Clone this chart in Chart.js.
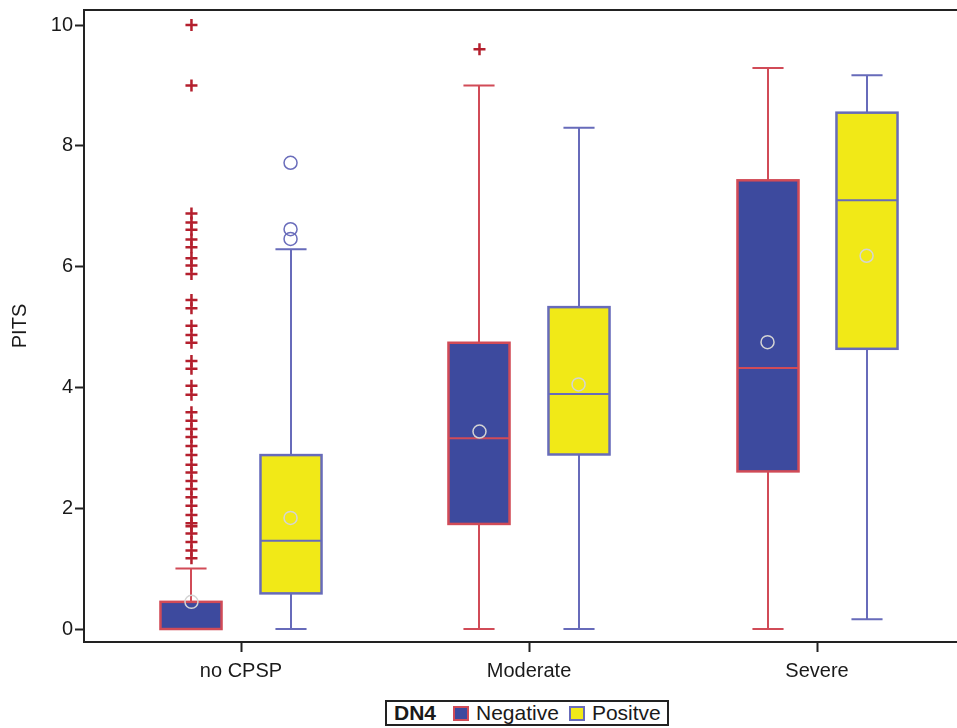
<!DOCTYPE html>
<html>
<head>
<meta charset="utf-8">
<script src="https://cdn.jsdelivr.net/npm/chart.js@4/dist/chart.umd.min.js"></script>
<style>
  html, body { margin: 0; padding: 0; background: #fff; overflow: hidden; }
  #wrap { position: relative; width: 957px; height: 728px; overflow: hidden; }
  #legend {
    position: absolute; left: 385px; top: 700px; height: 26px;
    border: 2px solid #222; box-sizing: border-box; padding: 0 6px 0 7px;
    display: flex; align-items: center; font-family: "Liberation Sans", Arial, sans-serif;
    font-size: 21px; color: #1a1a1a; background: #fff; white-space: nowrap;
  }
  #legend b { margin-right: 17px; }
  #legend .sw { display: inline-block; width: 12px; height: 11px; border: 2px solid; margin-right: 7px; }
  #legend .item { display: flex; align-items: center; margin-right: 10px; }
  #legend .item:last-child { margin-right: 0; }
</style>
</head>
<body>
<div id="wrap">
  <canvas id="chart" width="980" height="728"></canvas>
  <div id="legend"><b>DN4</b></div>
</div>
<script>
const categories = ['no CPSP', 'Moderate', 'Severe'];
const seriesNames = ['Negative', 'Positve'];
const yTickValues = [0, 2, 4, 6, 8, 10];

// DN4 negative
const negLow = [0, 0, 0];
const negQ1 = [0, 1.74, 2.61];
const negMedian = [0, 3.16, 4.32];
const negQ3 = [0.45, 4.74, 7.43];
const negHigh = [1.0, 9.0, 9.29];
const negMean = [0.45, 3.27, 4.75];
const negOutliers = [
    [10, 9, 6.88, 6.73, 6.61, 6.45, 6.32, 6.14, 6.02, 5.88, 5.45, 5.31, 5.02, 4.87, 4.74,
     4.44, 4.31, 4.03, 3.88, 3.59, 3.45, 3.31, 3.18, 3.03, 2.88, 2.72, 2.59, 2.45, 2.32,
     2.18, 2.04, 1.89, 1.75, 1.70, 1.58, 1.44, 1.30, 1.17],
    [9.6],
    []
];

// DN4 positive
const posLow = [0, 0, 0.16];
const posQ1 = [0.59, 2.89, 4.64];
const posMedian = [1.46, 3.89, 7.1];
const posQ3 = [2.88, 5.33, 8.55];
const posHigh = [6.29, 8.3, 9.17];
const posMean = [1.84, 4.05, 6.18];
const posOutliers = [[7.72, 6.62, 6.46], [], []];

const BOX_W = 0.212;
const CAP_W = 0.108;
const OFFSET = 0.172;

const groups = [
    { name: seriesNames[0], low: negLow, q1: negQ1, med: negMedian, q3: negQ3, high: negHigh,
      offset: -OFFSET, fill: '#3d4a9e', border: '#d14b57' },
    { name: seriesNames[1], low: posLow, q1: posQ1, med: posMedian, q3: posQ3, high: posHigh,
      offset: OFFSET, fill: '#f1e917', border: '#676bba' }
];

// legend
const legend = document.getElementById('legend');
groups.forEach(g => {
    const item = document.createElement('span');
    item.className = 'item';
    item.innerHTML = '<span class="sw" style="background:' + g.fill + ';border-color:' + g.border + '"></span>' + g.name;
    legend.appendChild(item);
});

const boxPlugin = {
    id: 'boxes',
    beforeDatasetsDraw(chart) {
        const ctx = chart.ctx;
        const xs = chart.scales.x, ys = chart.scales.y;
        const unit = xs.getPixelForValue(1) - xs.getPixelForValue(0);
        ctx.save();
        groups.forEach(g => {
            categories.forEach((c, i) => {
                const cx = Math.round(xs.getPixelForValue(i + 1 + g.offset));
                const hw = unit * BOX_W / 2;
                const cw = unit * CAP_W / 2;
                const yLow = ys.getPixelForValue(g.low[i]);
                const yQ1 = ys.getPixelForValue(g.q1[i]);
                const yMed = ys.getPixelForValue(g.med[i]);
                const yQ3 = ys.getPixelForValue(g.q3[i]);
                const yHigh = ys.getPixelForValue(g.high[i]);
                ctx.strokeStyle = g.border;
                ctx.lineWidth = 2;
                ctx.beginPath();
                ctx.moveTo(cx, yLow); ctx.lineTo(cx, yQ1);
                ctx.moveTo(cx, yQ3); ctx.lineTo(cx, yHigh);
                ctx.moveTo(cx - cw, yLow); ctx.lineTo(cx + cw, yLow);
                ctx.moveTo(cx - cw, yHigh); ctx.lineTo(cx + cw, yHigh);
                ctx.stroke();
                ctx.fillStyle = g.fill;
                ctx.fillRect(cx - hw, yQ3, hw * 2, yQ1 - yQ3);
                ctx.lineWidth = 2.5;
                ctx.strokeRect(cx - hw, yQ3, hw * 2, yQ1 - yQ3);
                ctx.lineWidth = 2;
                ctx.beginPath();
                ctx.moveTo(cx - hw, yMed); ctx.lineTo(cx + hw, yMed);
                ctx.stroke();
            });
        });
        ctx.restore();
    },
    afterDraw(chart) {
        const ctx = chart.ctx, a = chart.chartArea;
        ctx.save();
        ctx.strokeStyle = '#222';
        ctx.lineWidth = 2;
        ctx.beginPath();
        ctx.moveTo(a.left - 1, a.top);
        ctx.lineTo(a.right, a.top);
        ctx.stroke();
        ctx.restore();
    }
};

function pointsAt(lists, offset) {
    const pts = [];
    lists.forEach((vals, i) => vals.forEach(v => pts.push({ x: i + 1 + offset, y: v })));
    return pts;
}

const meanPoints = pointsAt(negMean.map(v => [v]), -OFFSET).concat(pointsAt(posMean.map(v => [v]), OFFSET));

const tickFont = { family: '"Liberation Sans", Arial, sans-serif', size: 20 };

new Chart(document.getElementById('chart'), {
    type: 'scatter',
    data: {
        datasets: [
            {
                label: 'Negative outliers',
                data: pointsAt(negOutliers, -OFFSET),
                pointStyle: 'cross',
                radius: 6,
                borderColor: '#b41f2d',
                borderWidth: 2.5
            },
            {
                label: 'Positive outliers',
                data: pointsAt(posOutliers, OFFSET),
                pointStyle: 'circle',
                radius: 6.5,
                borderColor: '#6a6dbb',
                backgroundColor: 'rgba(0,0,0,0)',
                borderWidth: 1.5
            },
            {
                label: 'Mean',
                data: meanPoints,
                pointStyle: 'circle',
                radius: 6.5,
                borderColor: '#d4d4d4',
                backgroundColor: 'rgba(0,0,0,0)',
                borderWidth: 1.5
            }
        ]
    },
    options: {
        responsive: false,
        animation: false,
        layout: { padding: { top: 10, right: 10, left: 0, bottom: 0 } },
        plugins: {
            legend: { display: false },
            tooltip: { enabled: false }
        },
        scales: {
            x: {
                type: 'linear',
                min: 0.4549,
                max: 3.531,
                afterFit: s => { s.height = 86; s.paddingLeft = 0; s.paddingRight = 0; },
                afterBuildTicks: s => { s.ticks = categories.map((c, i) => ({ value: i + 1 })); },
                ticks: {
                    callback: v => categories[v - 1],
                    font: tickFont,
                    color: '#1a1a1a',
                    padding: 7,
                    maxRotation: 0
                },
                grid: { display: true, drawOnChartArea: false, tickLength: 10, tickWidth: 2, tickColor: '#222' },
                border: { display: true, color: '#222', width: 2 }
            },
            y: {
                min: -0.215,
                max: 10.25,
                afterFit: s => { s.width = 84; s.paddingTop = 0; s.paddingBottom = 0; },
                afterBuildTicks: s => { s.ticks = yTickValues.map(v => ({ value: v })); },
                ticks: { font: tickFont, color: '#1a1a1a', padding: 2 },
                grid: { display: true, drawOnChartArea: false, tickLength: 9, tickWidth: 2, tickColor: '#222' },
                border: { display: true, color: '#222', width: 2 },
                title: {
                    display: true,
                    text: 'PITS',
                    font: tickFont,
                    color: '#1a1a1a',
                    padding: { top: 8, bottom: 0 }
                }
            }
        }
    },
    plugins: [boxPlugin]
});
</script>
</body>
</html>
